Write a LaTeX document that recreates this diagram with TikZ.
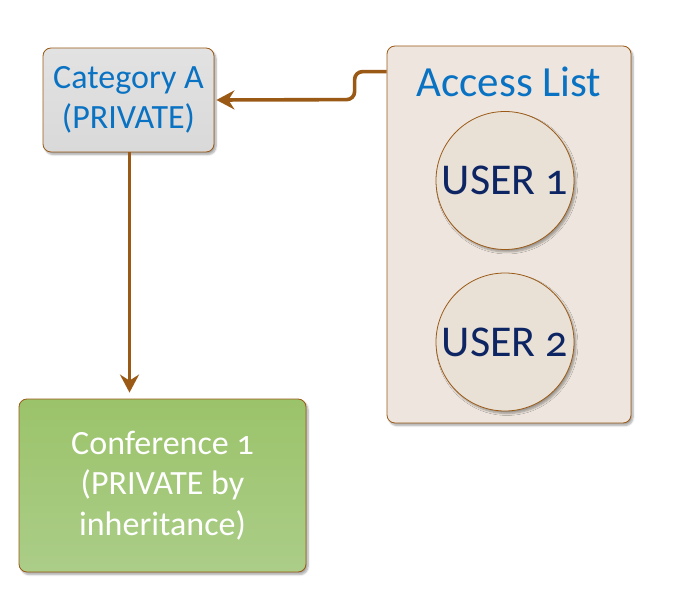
\documentclass[tikz,border=0pt]{standalone}
\usepackage{fontspec}
\setmainfont[Numbers=OldStyle]{Carlito}
\usetikzlibrary{arrows.meta,shadows.blur}
\definecolor{brn}{HTML}{9A5A16}
\definecolor{bluetxt}{HTML}{0A72C2}
\definecolor{navy}{HTML}{0D2663}
\definecolor{accfill}{HTML}{EEE6DE}
\definecolor{circfill}{HTML}{E9E0D6}
\definecolor{grtop}{HTML}{9BC36A}
\definecolor{grbot}{HTML}{ABCD88}
\definecolor{graytop}{HTML}{E2E2E2}
\definecolor{graybot}{HTML}{D9D9D9}
\tikzset{
  shad/.style={blur shadow={shadow xshift=2pt,shadow yshift=-2.5pt,shadow blur steps=6,shadow opacity=35}},
  boxbase/.style={draw=brn,line width=0.8pt,rounded corners=8pt,inner sep=0pt,align=center,shad},
  arr/.style={draw=brn,line width=3.6pt,-{Stealth[length=18pt,width=19pt,inset=6pt]}},
  big/.style={font=\fontsize{34}{40.5}\selectfont},
  usercirc/.style={circle,draw=brn,line width=0.8pt,fill=circfill,minimum size=138pt,inner sep=0pt,text=navy,font=\fontsize{44}{48}\selectfont,shad},
}
\begin{document}
\begin{tikzpicture}[x=1pt,y=-1pt]
\useasboundingbox (0,0) rectangle (693,609);
\node[boxbase,top color=graytop,bottom color=graybot,minimum width=171pt,minimum height=104pt,text=bluetxt,big] (cat) at (128.5,100) {Category A\\(PRIVATE)};
\node[boxbase,fill=accfill,minimum width=244pt,minimum height=377pt] (acc) at (509,234.5) {};
\node[text=bluetxt,font=\fontsize{43}{48}\selectfont,inner sep=0pt] (title) at (509,82) {Access List};
\node[usercirc] (u1) at (505,180.5) {USER 1};
\node[usercirc] (u2) at (505,342) {USER 2};
\node[boxbase,top color=grtop,bottom color=grbot,minimum width=287pt,minimum height=173pt,text=white,big] (conf) at (162.5,485.5) {Conference 1\\(PRIVATE by\\inheritance)};
\draw[arr,rounded corners=8pt] ([yshift=-26pt]acc.north west) -- ++(-32,0) -- ++(0,28) -- ([xshift=2pt]cat.east);
\draw[arr,shorten >=6pt] ([xshift=1pt]cat.south) -- ([xshift=1pt]cat.south |- conf.north);
\end{tikzpicture}
\end{document}
